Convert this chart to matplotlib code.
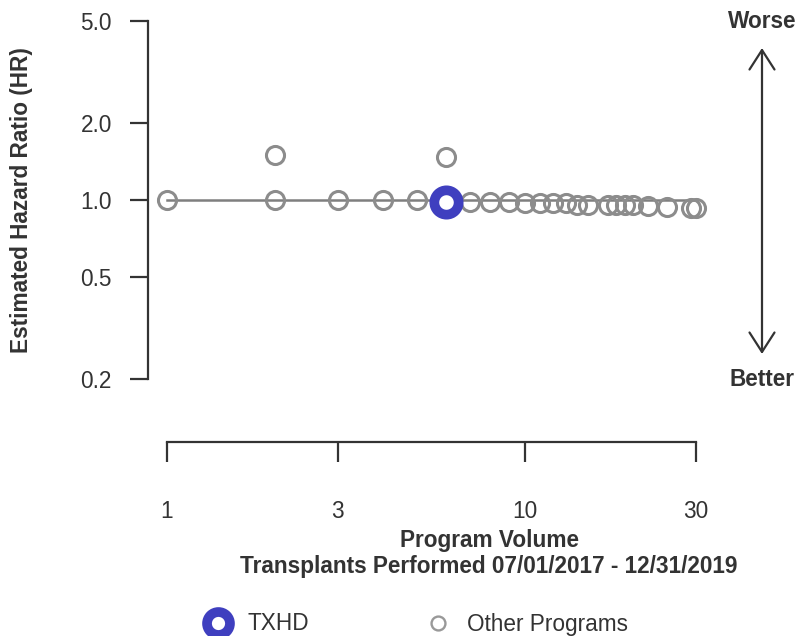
import matplotlib
matplotlib.use('Agg')
import matplotlib.pyplot as plt
from matplotlib.lines import Line2D
from matplotlib.patches import ArrowStyle
import numpy as np

plt.rcParams['font.family'] = ['Liberation Sans', 'DejaVu Sans']

# data
other_volume = [1, 2, 2, 3, 4, 5, 6, 7, 8, 9, 10, 11, 12, 13, 14, 15, 17, 18, 19, 20, 22, 25, 29, 30]
other_hr = [1.0, 1.5, 1.0, 1.0, 1.0, 1.0, 1.47, 0.98, 0.98, 0.98, 0.97, 0.97, 0.97, 0.97, 0.96, 0.96,
            0.96, 0.96, 0.96, 0.96, 0.95, 0.94, 0.93, 0.93]
program_volume = [6]
program_hr = [0.98]
program_name = 'TXHD'

y_ticks = [0.2, 0.5, 1.0, 2.0, 5.0]
y_tick_labels = ['0.2', '0.5', '1.0', '2.0', '5.0']
x_ticks = [1, 3, 10, 30]
x_tick_labels = ['1', '3', '10', '30']

W, H = 806, 636
dark = '#333333'
grey = '#8c8c8c'
blue = '#3f3fbf'
fs = 16.3

def fx(px):
    return px / W

def fy(py):
    return 1 - py / H

fig = plt.figure(figsize=(W / 100, H / 100), dpi=100)

# axis geometry (pixels): x=1 at 167, 358 px per decade; y=1 at 200, 256 px per decade
left_px, right_px = 148, 717
top_px, bot_px = 8, 392
ax = fig.add_axes([fx(left_px), fy(bot_px), (right_px - left_px) / W, (bot_px - top_px) / H])
ax.set_xscale('log')
ax.set_yscale('log')
ax.set_xlim(10 ** ((left_px - 167) / 358), 10 ** ((right_px - 167) / 358))
ax.set_ylim(10 ** (-(bot_px - 200) / 256), 10 ** ((200 - top_px) / 256))

# reference line at HR = 1
ax.plot([min(other_volume), max(other_volume)], [1, 1], color='#7f7f7f', lw=1.8, zorder=1)

ax.plot(other_volume, other_hr, 'o', ms=13, mfc='none', mec=grey, mew=2.2, zorder=2, clip_on=False)
ax.plot(program_volume, program_hr, 'o', ms=17.5, mfc='white', mec=blue, mew=7, zorder=3, clip_on=False)

for s in ['top', 'right']:
    ax.spines[s].set_visible(False)
ax.spines['left'].set_bounds(0.2, 5.0)
ax.spines['bottom'].set_bounds(1, 30)
ax.spines['bottom'].set_position(('outward', 50 * 0.72))
for s in ['left', 'bottom']:
    ax.spines[s].set_color(dark)
    ax.spines[s].set_linewidth(1.6)

ax.yaxis.set_major_locator(matplotlib.ticker.FixedLocator(y_ticks))
ax.yaxis.set_major_formatter(matplotlib.ticker.FixedFormatter(y_tick_labels))
ax.yaxis.set_minor_locator(matplotlib.ticker.NullLocator())
ax.xaxis.set_major_locator(matplotlib.ticker.FixedLocator(x_ticks))
ax.xaxis.set_major_formatter(matplotlib.ticker.FixedFormatter(x_tick_labels))
ax.xaxis.set_minor_locator(matplotlib.ticker.NullLocator())
ax.tick_params(axis='y', length=18 * 0.72, width=1.6, color=dark, pad=13, labelsize=fs, labelcolor=dark)
ax.tick_params(axis='x', length=20 * 0.72, width=1.6, color=dark, pad=27, labelsize=fs, labelcolor=dark)

fig.text(fx(22), fy(200), 'Estimated Hazard Ratio (HR)', rotation=90, ha='center', va='center',
         fontsize=fs, fontweight='bold', color=dark)
fig.text(fx(489), fy(540), 'Program Volume', ha='center', va='center', fontsize=fs,
         fontweight='bold', color=dark)
fig.text(fx(489), fy(567), 'Transplants Performed 07/01/2017 - 12/31/2019', ha='center', va='center',
         fontsize=fs, fontweight='bold', color=dark)

# worse / better arrow
fig.text(fx(762), fy(21), 'Worse', ha='center', va='center', fontsize=fs, fontweight='bold', color=dark)
fig.text(fx(762), fy(380), 'Better', ha='center', va='center', fontsize=fs, fontweight='bold', color=dark)
ax.annotate('', xy=(fx(762), fy(48)), xytext=(fx(762), fy(354)), xycoords='figure fraction',
            textcoords='figure fraction',
            arrowprops=dict(arrowstyle=ArrowStyle('<->', head_length=14, head_width=9),
                            mutation_scale=1, color=dark, lw=1.6, shrinkA=0, shrinkB=0))

handles = [
    Line2D([], [], marker='o', ls='none', ms=16.5, mfc='white', mec=blue, mew=7),
    Line2D([], [], marker='o', ls='none', ms=10, mfc='none', mec='#999999', mew=1.7),
]
em = fs / 0.72
fig.legend(handles, [program_name, 'Other Programs'], loc='center left',
           bbox_to_anchor=(fx(218 - em / 2), fy(624)),
           ncol=2, frameon=False, fontsize=fs, handlelength=1.0, handletextpad=(247 - 218 - em / 2) / em,
           columnspacing=5.2, labelcolor=dark, borderaxespad=0, borderpad=0)

fig.savefig('out.png', dpi=100)
